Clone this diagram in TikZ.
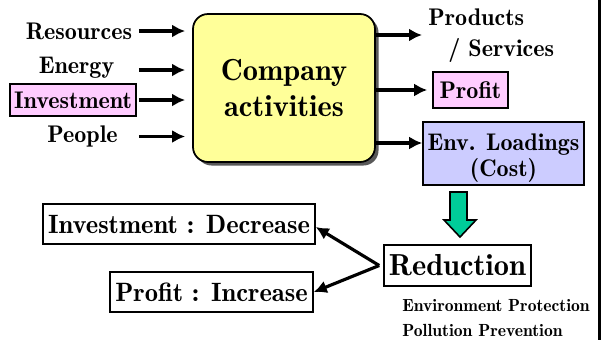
\documentclass[tikz,border=0pt]{standalone}
\usepackage{fontspec}
\setmainfont{lmroman10-regular.otf}[BoldFont=lmromandemi10-regular.otf]
\usetikzlibrary{arrows.meta, positioning, calc, shadows}

\definecolor{actyellow}{HTML}{FFFF99}
\definecolor{moneypink}{HTML}{FFCCFF}
\definecolor{loadblue}{HTML}{CCCCFF}
\definecolor{downgreen}{HTML}{00CC99}

\tikzset{
    flow/.style={-{Latex[length=2.6mm,width=2.6mm]}, line width=1.8pt},
    box/.style={draw, rectangle, line width=0.9pt, inner sep=0pt},
    small/.style={font=\fontsize{13.7}{15}\selectfont\bfseries},
    big/.style={font=\fontsize{15.1}{18}\selectfont\bfseries},
    huge/.style={font=\fontsize{17.3}{21}\selectfont\bfseries}
}

\begin{document}
\begin{tikzpicture}
    \useasboundingbox (0,0) rectangle (12.04,-6.8);

    % inputs
    \node[small] (res) at (1.58,-0.62) {Resources};
    \node[small] (energy) at (1.53,-1.35) {Energy};
    \node[box, small, fill=moneypink, minimum width=2.52cm, minimum height=0.64cm] (invest) at (1.46,-2.0) {Investment};
    \node[small] (people) at (1.65,-2.73) {People};

    \node[draw, line width=1pt, fill=actyellow, rounded corners=0.3cm, minimum width=3.64cm, minimum height=2.96cm, align=center, huge,
          drop shadow={shadow xshift=0.07cm, shadow yshift=-0.07cm, fill=black!65, opacity=1}] (company) at (5.68,-1.76) {Company\\activities};

    % outputs
    \node[small, align=left, anchor=west, inner sep=0pt] (prod) at (8.56,-0.72) {Products\\[2.5pt]\hspace*{0.40cm}/ Services};
    \node[box, small, fill=moneypink, minimum width=1.5cm, minimum height=0.72cm] (profit) at (9.41,-1.80) {Profit};
    \node[box, small, fill=loadblue, minimum width=3.22cm, minimum height=1.26cm, align=center] (env) at (10.07,-3.07)
        {\rule{0pt}{15pt}Env. Loadings\\(Cost)};

    \draw[flow] (invest.east |- res) ++(0.04,0) -- ([xshift=-0.14cm]company.west |- res);
    \draw[flow] (invest.east |- 0,-1.40) ++(0.04,0) -- ([xshift=-0.14cm]company.west |- 0,-1.40);
    \draw[flow] ([xshift=0.04cm]invest.east) -- ([xshift=-0.14cm]company.west |- invest);
    \draw[flow] (invest.east |- people) ++(0.04,0) -- ([xshift=-0.14cm]company.west |- people);

    \draw[flow] (company.east |- 0,-0.70) -- (8.44,-0.70);
    \draw[flow] (company.east |- profit) -- ([xshift=-0.1cm]profit.west);
    \draw[flow] (company.east |- 0,-2.86) -- (env.west |- 0,-2.86);

    % reduction part
    \node[box, huge, minimum width=2.94cm, minimum height=0.82cm] (red) at (9.15,-5.31) {Reduction};
    \node[box, big, minimum width=5.44cm, minimum height=0.8cm] (invdec) at (3.58,-4.48) {Investment : Decrease};
    \node[box, big, minimum width=4.06cm, minimum height=0.8cm] (profinc) at (4.23,-5.84) {Profit : Increase};
    \node[anchor=north west, align=left, inner sep=0pt, font=\fontsize{10}{14}\selectfont\bfseries] (aims) at (8.04,-5.98)
        {Environment Protection\\Pollution Prevention};

    \draw[line width=0.9pt, fill=downgreen] (9.00,-3.84) -- (9.34,-3.84) -- (9.34,-4.40) -- (9.52,-4.40)
        -- (9.20,-4.74) -- (8.88,-4.40) -- (9.00,-4.40) -- cycle;

    \draw[flow] ([xshift=-0.08cm]red.west) -- ([yshift=-0.06cm]invdec.east);
    \draw[flow] ([xshift=-0.08cm]red.west) -- (profinc.east);

    % right border
    \draw[line width=1.7pt] (11.98,0) -- (11.98,-6.8);
\end{tikzpicture}
\end{document}
